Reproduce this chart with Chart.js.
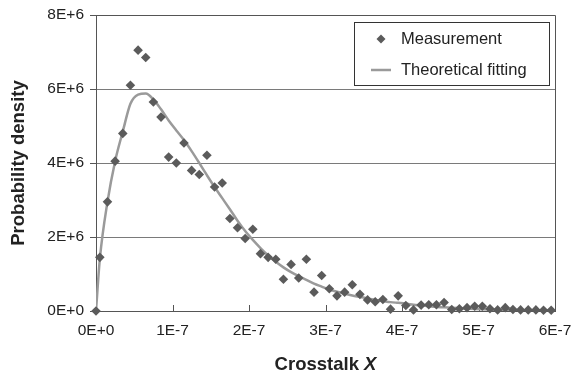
<!DOCTYPE html>
<html>
<head>
<meta charset="utf-8">
<script src="https://cdn.jsdelivr.net/npm/chart.js@4/dist/chart.umd.min.js"></script>
<style>
html,body{margin:0;padding:0;background:#fff;}
#wrap{width:573px;height:378px;}
</style>
</head>
<body>
<div id="wrap"><canvas id="c" width="573" height="378"></canvas></div>
<script>
// Crosstalk X positions (bin centres)
const crosstalkX = [0, 0.05e-7, 0.15e-7, 0.25e-7, 0.35e-7, 0.45e-7, 0.55e-7, 0.65e-7, 0.75e-7, 0.85e-7, 0.95e-7,
  1.05e-7, 1.15e-7, 1.25e-7, 1.35e-7, 1.45e-7, 1.55e-7, 1.65e-7, 1.75e-7, 1.85e-7, 1.95e-7,
  2.05e-7, 2.15e-7, 2.25e-7, 2.35e-7, 2.45e-7, 2.55e-7, 2.65e-7, 2.75e-7, 2.85e-7, 2.95e-7,
  3.05e-7, 3.15e-7, 3.25e-7, 3.35e-7, 3.45e-7, 3.55e-7, 3.65e-7, 3.75e-7, 3.85e-7, 3.95e-7,
  4.05e-7, 4.15e-7, 4.25e-7, 4.35e-7, 4.45e-7, 4.55e-7, 4.65e-7, 4.75e-7, 4.85e-7, 4.95e-7,
  5.05e-7, 5.15e-7, 5.25e-7, 5.35e-7, 5.45e-7, 5.55e-7, 5.65e-7, 5.75e-7, 5.85e-7, 5.95e-7];

// Measurement (probability density, in units of 1E+6)
const measurement = [0, 1.45, 2.95, 4.05, 4.8, 6.1, 7.05, 6.85, 5.65, 5.24, 4.16,
  4.0, 4.54, 3.8, 3.69, 4.21, 3.35, 3.46, 2.5, 2.25, 1.96,
  2.21, 1.55, 1.45, 1.4, 0.86, 1.26, 0.89, 1.4, 0.51, 0.96,
  0.6, 0.41, 0.51, 0.71, 0.45, 0.3, 0.25, 0.31, 0.05, 0.41,
  0.15, 0.03, 0.16, 0.17, 0.17, 0.23, 0.04, 0.06, 0.09, 0.13,
  0.13, 0.06, 0.03, 0.09, 0.04, 0.03, 0.03, 0.03, 0.02, 0.02];

// Theoretical fitting (probability density, in units of 1E+6)
const theoretical = [0, 1.4, 2.95, 4.05, 4.85, 5.6, 5.85, 5.88, 5.72, 5.45, 5.15,
  4.88, 4.62, 4.32, 4.0, 3.67, 3.35, 3.05, 2.75, 2.44, 2.16,
  1.92, 1.7, 1.5, 1.33, 1.18, 1.05, 0.94, 0.84, 0.74, 0.66,
  0.58, 0.52, 0.47, 0.42, 0.38, 0.34, 0.3, 0.27, 0.24, 0.22,
  0.2, 0.17, 0.15, 0.13, 0.11, 0.1, 0.085, 0.075, 0.065, 0.055,
  0.048, 0.042, 0.037, 0.032, 0.028, 0.025, 0.022, 0.019, 0.017, 0.015];

const xTickLabels = ['0E+0', '1E-7', '2E-7', '3E-7', '4E-7', '5E-7', '6E-7'];
const yTickLabels = ['0E+0', '2E+6', '4E+6', '6E+6', '8E+6'];
const seriesNames = ['Measurement', 'Theoretical fitting'];
const xTitle = 'Crosstalk ';
const xTitleVar = 'X';
const yTitle = 'Probability density';

const FONT = "'Liberation Sans', Arial, sans-serif";
const MARK = '#5b5b5b';
const FITC = '#9a9a9a';
const AXIS = '#555555';

const toPts = (ys, scale) => crosstalkX.map((x, i) => ({x: x, y: ys[i] * scale}));

const framePlugin = {
  id: 'frame',
  beforeDatasetsDraw(chart) {
    const {ctx, chartArea: a, scales} = chart;
    ctx.save();
    ctx.strokeStyle = AXIS;
    ctx.lineWidth = 1;
    ctx.beginPath();
    ctx.moveTo(a.left, a.top + 0.5);
    ctx.lineTo(a.right + 0.5, a.top + 0.5);
    ctx.lineTo(a.right + 0.5, a.bottom);
    ctx.stroke();
    // inward x ticks
    ctx.beginPath();
    scales.x.ticks.forEach(t => {
      const px = Math.round(scales.x.getPixelForValue(t.value)) + 0.5;
      ctx.moveTo(px, a.bottom);
      ctx.lineTo(px, a.bottom - 6);
    });
    ctx.stroke();
    ctx.restore();
  },
  afterDraw(chart) {
    const {ctx, chartArea: a} = chart;
    ctx.save();
    // axis titles
    ctx.fillStyle = '#222';
    ctx.font = "bold 18.5px " + FONT;
    ctx.textBaseline = 'middle';
    ctx.textAlign = 'center';
    ctx.save();
    ctx.translate(19, (a.top + a.bottom) / 2);
    ctx.rotate(-Math.PI / 2);
    ctx.fillText(yTitle, 0, 0);
    ctx.restore();
    const w1 = ctx.measureText(xTitle).width;
    ctx.font = "italic bold 18.5px " + FONT;
    const w2 = ctx.measureText(xTitleVar).width;
    const cx = (a.left + a.right) / 2;
    const sx = cx - (w1 + w2) / 2;
    ctx.textAlign = 'left';
    ctx.font = "bold 18.5px " + FONT;
    ctx.fillText(xTitle, sx, 365);
    ctx.font = "italic bold 18.5px " + FONT;
    ctx.fillText(xTitleVar, sx + w1, 365);

    // legend
    const bx = 354.5, by = 22.5, bw = 195, bh = 63;
    ctx.fillStyle = '#fff';
    ctx.fillRect(bx, by, bw, bh);
    ctx.strokeStyle = '#333';
    ctx.lineWidth = 1;
    ctx.strokeRect(bx, by, bw, bh);
    // diamond
    ctx.fillStyle = MARK;
    ctx.beginPath();
    ctx.moveTo(381, 34.5);
    ctx.lineTo(385.5, 39);
    ctx.lineTo(381, 43.5);
    ctx.lineTo(376.5, 39);
    ctx.closePath();
    ctx.fill();
    // line
    ctx.strokeStyle = FITC;
    ctx.lineWidth = 2.5;
    ctx.beginPath();
    ctx.moveTo(371, 70);
    ctx.lineTo(391, 70);
    ctx.stroke();
    ctx.fillStyle = '#222';
    ctx.font = "16.5px " + FONT;
    ctx.textAlign = 'left';
    ctx.textBaseline = 'middle';
    ctx.fillText(seriesNames[0], 401, 39);
    ctx.fillText(seriesNames[1], 401, 70);
    ctx.restore();
  }
};

new Chart(document.getElementById('c'), {
  type: 'scatter',
  data: {
    datasets: [
      {
        label: seriesNames[0],
        data: toPts(measurement, 1e6),
        showLine: false,
        pointStyle: 'rectRot',
        pointRadius: 4.8,
        pointBorderWidth: 0,
        backgroundColor: MARK,
        borderColor: MARK,
        clip: false,
        order: 0
      },
      {
        label: seriesNames[1],
        data: toPts(theoretical, 1e6),
        showLine: true,
        pointRadius: 0,
        borderColor: FITC,
        borderWidth: 2.5,
        tension: 0.35,
        cubicInterpolationMode: 'monotone',
        fill: false,
        order: 1
      }
    ]
  },
  options: {
    responsive: false,
    animation: false,
    devicePixelRatio: 1,
    layout: {padding: {left: 0, top: 15, right: 18, bottom: 0}},
    plugins: {legend: {display: false}, tooltip: {enabled: false}},
    scales: {
      x: {
        type: 'linear',
        min: 0,
        max: 6e-7,
        ticks: {
          stepSize: 1e-7,
          color: '#222',
          font: {family: FONT, size: 15.5},
          padding: 10,
          maxRotation: 0,
          callback: (v, i) => xTickLabels[i]
        },
        grid: {display: false, drawTicks: false},
        border: {display: true, color: AXIS, width: 1},
        afterFit: s => { s.height = 67; s.paddingLeft = 0; s.paddingRight = 0; }
      },
      y: {
        type: 'linear',
        min: 0,
        max: 8e6,
        ticks: {
          stepSize: 2e6,
          color: '#222',
          font: {family: FONT, size: 15.5},
          padding: 6,
          callback: (v, i) => yTickLabels[i]
        },
        grid: {color: '#7a7a7a', lineWidth: 1, drawTicks: true, tickLength: 6, tickColor: AXIS},
        border: {display: true, color: AXIS, width: 1},
        afterFit: s => { s.width = 96; s.paddingTop = 0; s.paddingBottom = 0; }
      }
    }
  },
  plugins: [framePlugin]
});
</script>
</body>
</html>
